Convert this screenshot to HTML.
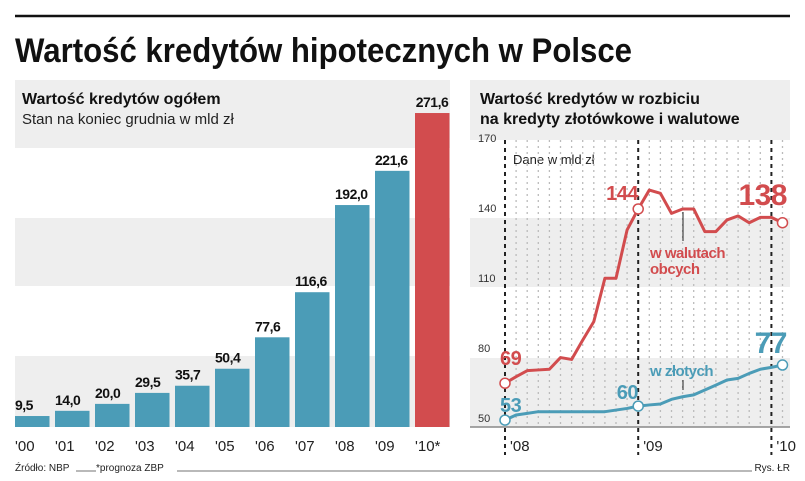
<!DOCTYPE html>
<html><head><meta charset="utf-8"><style>
body{margin:0;background:#fff;font-family:"Liberation Sans",sans-serif;}
svg{display:block}
</style></head><body>
<svg width="805" height="481" viewBox="0 0 805 481" xmlns="http://www.w3.org/2000/svg">
<line x1="15" y1="16" x2="790" y2="16" stroke="#111" stroke-width="2.5"/>
<text x="15" y="62" font-size="34" font-weight="bold" fill="#111" textLength="617" lengthAdjust="spacingAndGlyphs" font-family="Liberation Sans Narrow, Liberation Sans, sans-serif">Wartość kredytów hipotecznych w Polsce</text>
<g id="left">
<rect x="15" y="80" width="435" height="68" fill="#eeeeee"/>
<rect x="15" y="218" width="435" height="68" fill="#eeeeee"/>
<rect x="15" y="356" width="435" height="71" fill="#eeeeee"/>
<text x="22" y="104" font-size="16" font-weight="bold" fill="#111">Wartość kredytów ogółem</text>
<text x="22" y="124" font-size="15" fill="#222">Stan na koniec grudnia w mld zł</text>
</g>
<g id="right">
<rect x="470" y="80" width="320" height="60" fill="#eeeeee"/>
<rect x="470" y="218" width="320" height="69" fill="#eeeeee"/>
<rect x="470" y="358" width="320" height="69" fill="#eeeeee"/>
<text x="480" y="104" font-size="16" font-weight="bold" fill="#111">Wartość kredytów w rozbiciu</text>
<text x="480" y="124" font-size="16" font-weight="bold" fill="#111">na kredyty złotówkowe i walutowe</text>
</g>
<line x1="470" y1="427" x2="790" y2="427" stroke="#888" stroke-width="1.5"/>
<text x="513" y="164" font-size="13" fill="#222">Dane w mld zł</text>
<text x="15" y="471" font-size="10" fill="#222">Źródło: NBP</text>
<line x1="76" y1="471" x2="96" y2="471" stroke="#444" stroke-width="0.8"/>
<text x="96" y="471" font-size="10" fill="#222">*prognoza ZBP</text>
<line x1="177" y1="471" x2="752" y2="471" stroke="#444" stroke-width="0.8"/>
<text x="790" y="471" font-size="10" fill="#222" text-anchor="end">Rys. ŁR</text>
<g id="bars"></g>
<g id="lines"></g>
</svg>
<script>
const years=["'00","'01","'02","'03","'04","'05","'06","'07","'08","'09","'10*"];
const totals=[9.5,14.0,20.0,29.5,35.7,50.4,77.6,116.6,192.0,221.6,271.6];
const totalLabels=["9,5","14,0","20,0","29,5","35,7","50,4","77,6","116,6","192,0","221,6","271,6"];
const fxValues=[64.9,67.7,70.3,70.6,70.9,75.9,75.1,83.4,91.3,109.9,109.9,130.6,139.6,147.7,146.3,137.7,139.6,139.6,129.9,129.9,134.9,136.6,133.7,136,136,133.7];
const plnValues=[49.1,51.3,52,52.7,52.7,52.7,52.7,52.7,52.7,52.7,53.4,54.1,55.1,55.6,56,58,59.1,59.9,62,64.1,66.3,67,69.1,70.9,71.7,72.7];
const yTicks=[50,80,110,140,170];
const xYearLabels=["'08","'09","'10"];
const NS="http://www.w3.org/2000/svg";
function mk(tag,attrs,parent,txt){const e=document.createElementNS(NS,tag);for(const k in attrs)e.setAttribute(k,attrs[k]);if(txt!==undefined)e.textContent=txt;parent.appendChild(e);return e;}
const bg=document.getElementById('bars');
const bx=i=>15+i*40, by=v=>427-v*1.156;
years.forEach((y,i)=>{
 const r=mk('rect',{x:bx(i),y:by(totals[i]),width:34.5,height:427-by(totals[i]),fill:i===years.length-1?'#d24c4e':'#4b9cb7'},bg);
 
 
 const t=mk('text',{x:bx(i)+(i===years.length-1?17:0),y:by(totals[i])-6,'font-size':14,'font-weight':'bold',fill:'#111','text-anchor':i===years.length-1?'middle':'start','letter-spacing':'-0.5'},bg,totalLabels[i]);
 
 
 const l=mk('text',{x:bx(i),y:451,'font-size':15,fill:'#222'},bg,y);
 
 
});
const lg=document.getElementById('lines');
const lx=i=>505+i*11.1, ly=v=>418-(v-50)*2.333;
yTicks.forEach(v=>{
 const t=mk('text',{x:478,y:ly(v)+4,'font-size':11,fill:'#333'},lg,v);
 
 
});
for(let i=0;i<=25;i++){
 const major=(i===0||i===12||i===24);
 const ln=mk('line',{x1:lx(i),y1:140,x2:lx(i),y2:major?455:427,stroke:major?'#222':'#bbb','stroke-width':major?2:1.3,'stroke-dasharray':major?'4,4':'2,4'},lg);
 
 
}
xYearLabels.forEach((t,k)=>{
 const e=mk('text',{x:lx(k*12)+5,y:451,'font-size':15,fill:'#222'},lg,t);
 
 
});
function series(vals,col,name){
 const p=mk('polyline',{points:vals.map((v,i)=>lx(i)+','+ly(v)).join(' '),fill:'none',stroke:col,'stroke-width':3,'stroke-linejoin':'round'},lg);
 
 
 [0,12,vals.length-1].forEach(i=>{
  const c=mk('circle',{cx:lx(i),cy:ly(vals[i]),r:5,fill:'#fff',stroke:col,'stroke-width':1.5},lg);
  
  
 });
}
series(fxValues,'#d24c4e','fx');
series(plnValues,'#4b9cb7','pln');
function lab(x,y,s,col,txt,name,anchor){const e=mk('text',{x:x,y:y,'font-size':s,'font-weight':'bold',fill:col,'text-anchor':anchor||'start','letter-spacing':'-0.5'},lg,txt);}
lab(500,365,20,'#d24c4e','69','fx-start-label');
lab(638,200,20,'#d24c4e','144','fx-mid-label','end');
lab(787,205,30,'#d24c4e','138','fx-end-label','end');
lab(500,412,20,'#4b9cb7','53','pln-start-label');
lab(638,399,20,'#4b9cb7','60','pln-mid-label','end');
lab(787,353,30,'#4b9cb7','77','pln-end-label','end');
lab(650,258,15,'#d24c4e','w walutach','fx-series-label');
lab(650,274,15,'#d24c4e','obcych','fx-series-label-2');
lab(650,376,15,'#4b9cb7','w złotych','pln-series-label');
const a1=mk('line',{x1:683,y1:241,x2:683,y2:212,stroke:'#222','stroke-width':1},lg);


const a2=mk('line',{x1:683,y1:380,x2:683,y2:390,stroke:'#222','stroke-width':1},lg);


</script>
</body></html>
